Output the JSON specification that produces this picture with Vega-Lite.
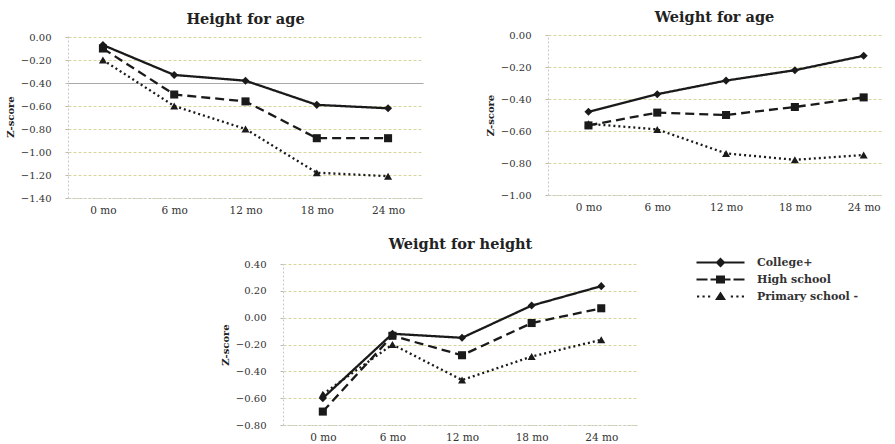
{
  "$schema": "https://vega.github.io/schema/vega-lite/v6.json",
  "padding": {"left": 5, "top": 9, "right": 5, "bottom": 5},
  "background": "white",
  "config": {
    "view": {"stroke": null},
    "font": "DejaVu Serif",
    "axisY": {"grid": true, "gridColor": "#d6d69c", "gridDash": [3, 2], "gridWidth": 1, "domainColor": "#c8c8c8", "domainDash": [2, 2], "tickColor": "#bbbbbb", "tickSize": 3, "labelFont": "DejaVu Serif", "labelFontSize": 10, "labelColor": "#333333", "labelPadding": 14, "titleFont": "DejaVu Serif", "titleFontSize": 10, "titleFontWeight": "bold", "titleColor": "#222222", "titlePadding": 5},
    "axisX": {"grid": false, "domainColor": "#c8c8c8", "domainDash": [2, 2], "ticks": false, "labelFont": "DejaVu Serif", "labelFontSize": 10.5, "labelColor": "#333333", "labelPadding": 7, "labelAngle": 0, "title": null},
    "title": {"font": "DejaVu Serif", "fontSize": 14.5, "fontWeight": "bold", "color": "#222222", "offset": 5}
  },
  "data": {"values": [
    {"panel": "HFA", "age": "0 mo", "edu": "College+", "z": -0.07},
    {"panel": "HFA", "age": "6 mo", "edu": "College+", "z": -0.33},
    {"panel": "HFA", "age": "12 mo", "edu": "College+", "z": -0.38},
    {"panel": "HFA", "age": "18 mo", "edu": "College+", "z": -0.59},
    {"panel": "HFA", "age": "24 mo", "edu": "College+", "z": -0.62},
    {"panel": "HFA", "age": "0 mo", "edu": "High school", "z": -0.10},
    {"panel": "HFA", "age": "6 mo", "edu": "High school", "z": -0.50},
    {"panel": "HFA", "age": "12 mo", "edu": "High school", "z": -0.56},
    {"panel": "HFA", "age": "18 mo", "edu": "High school", "z": -0.88},
    {"panel": "HFA", "age": "24 mo", "edu": "High school", "z": -0.88},
    {"panel": "HFA", "age": "0 mo", "edu": "Primary school -", "z": -0.20},
    {"panel": "HFA", "age": "6 mo", "edu": "Primary school -", "z": -0.60},
    {"panel": "HFA", "age": "12 mo", "edu": "Primary school -", "z": -0.80},
    {"panel": "HFA", "age": "18 mo", "edu": "Primary school -", "z": -1.18},
    {"panel": "HFA", "age": "24 mo", "edu": "Primary school -", "z": -1.21},
    {"panel": "WFA", "age": "0 mo", "edu": "College+", "z": -0.48},
    {"panel": "WFA", "age": "6 mo", "edu": "College+", "z": -0.37},
    {"panel": "WFA", "age": "12 mo", "edu": "College+", "z": -0.285},
    {"panel": "WFA", "age": "18 mo", "edu": "College+", "z": -0.22},
    {"panel": "WFA", "age": "24 mo", "edu": "College+", "z": -0.13},
    {"panel": "WFA", "age": "0 mo", "edu": "High school", "z": -0.565},
    {"panel": "WFA", "age": "6 mo", "edu": "High school", "z": -0.485},
    {"panel": "WFA", "age": "12 mo", "edu": "High school", "z": -0.50},
    {"panel": "WFA", "age": "18 mo", "edu": "High school", "z": -0.45},
    {"panel": "WFA", "age": "24 mo", "edu": "High school", "z": -0.39},
    {"panel": "WFA", "age": "0 mo", "edu": "Primary school -", "z": -0.555},
    {"panel": "WFA", "age": "6 mo", "edu": "Primary school -", "z": -0.59},
    {"panel": "WFA", "age": "12 mo", "edu": "Primary school -", "z": -0.74},
    {"panel": "WFA", "age": "18 mo", "edu": "Primary school -", "z": -0.78},
    {"panel": "WFA", "age": "24 mo", "edu": "Primary school -", "z": -0.75},
    {"panel": "WFH", "age": "0 mo", "edu": "College+", "z": -0.60},
    {"panel": "WFH", "age": "6 mo", "edu": "College+", "z": -0.12},
    {"panel": "WFH", "age": "12 mo", "edu": "College+", "z": -0.15},
    {"panel": "WFH", "age": "18 mo", "edu": "College+", "z": 0.09},
    {"panel": "WFH", "age": "24 mo", "edu": "College+", "z": 0.235},
    {"panel": "WFH", "age": "0 mo", "edu": "High school", "z": -0.70},
    {"panel": "WFH", "age": "6 mo", "edu": "High school", "z": -0.135},
    {"panel": "WFH", "age": "12 mo", "edu": "High school", "z": -0.28},
    {"panel": "WFH", "age": "18 mo", "edu": "High school", "z": -0.04},
    {"panel": "WFH", "age": "24 mo", "edu": "High school", "z": 0.07},
    {"panel": "WFH", "age": "0 mo", "edu": "Primary school -", "z": -0.57},
    {"panel": "WFH", "age": "6 mo", "edu": "Primary school -", "z": -0.20},
    {"panel": "WFH", "age": "12 mo", "edu": "Primary school -", "z": -0.465},
    {"panel": "WFH", "age": "18 mo", "edu": "Primary school -", "z": -0.29},
    {"panel": "WFH", "age": "24 mo", "edu": "Primary school -", "z": -0.165}
  ]},
  "spacing": 20,
  "resolve": {"scale": {"strokeDash": "independent", "shape": "independent"}, "legend": {"strokeDash": "independent", "shape": "independent"}},
  "vconcat": [
    {
      "hconcat": [
        {
          "title": "Height for age",
          "width": 355, "height": 163,
          "transform": [{"filter": "datum.panel === 'HFA'"}],
          "encoding": {
            "x": {"field": "age", "type": "ordinal", "sort": ["0 mo", "6 mo", "12 mo", "18 mo", "24 mo"], "scale": {"padding": 0.49, "align": 0.5}},
            "y": {"field": "z", "type": "quantitative", "scale": {"domain": [-1.4, 0.0174], "nice": false, "zero": false}, "axis": {"values": [0, -0.2, -0.4, -0.6, -0.8, -1.0, -1.2, -1.4], "format": ".2f", "title": "Z-score", "gridColor": {"condition": {"test": "abs(datum.value + 0.4) < 0.001", "value": "#a8a8a8"}, "value": "#d6d69c"}, "gridDash": {"condition": {"test": "abs(datum.value + 0.4) < 0.001", "value": []}, "value": [3, 2]}}}
          },
          "layer": [
            {"mark": {"type": "line", "color": "#1a1a1a", "strokeWidth": 2.3}, "encoding": {"strokeDash": {"field": "edu", "type": "nominal", "scale": {"domain": ["College+", "High school", "Primary school -"], "range": [[1, 0], [9, 5], [2, 3]]}, "legend": null}}},
            {"mark": {"type": "point", "filled": true, "opacity": 1, "color": "#1a1a1a", "size": 65}, "encoding": {"shape": {"field": "edu", "type": "nominal", "scale": {"domain": ["College+", "High school", "Primary school -"], "range": ["diamond", "square", "triangle-up"]}, "legend": null}}}
          ]
        },
        {
          "title": "Weight for age",
          "width": 333, "height": 160,
          "transform": [{"filter": "datum.panel === 'WFA'"}],
          "encoding": {
            "x": {"field": "age", "type": "ordinal", "sort": ["0 mo", "6 mo", "12 mo", "18 mo", "24 mo"], "scale": {"padding": 0.42, "align": 0.7}},
            "y": {"field": "z", "type": "quantitative", "scale": {"domain": [-1.0, 0], "nice": false, "zero": false}, "axis": {"values": [0, -0.2, -0.4, -0.6, -0.8, -1.0], "format": ".2f", "title": "Z-score"}}
          },
          "layer": [
            {"mark": {"type": "line", "color": "#1a1a1a", "strokeWidth": 2.3}, "encoding": {"strokeDash": {"field": "edu", "type": "nominal", "scale": {"domain": ["College+", "High school", "Primary school -"], "range": [[1, 0], [9, 5], [2, 3]]}, "legend": null}}},
            {"mark": {"type": "point", "filled": true, "opacity": 1, "color": "#1a1a1a", "size": 65}, "encoding": {"shape": {"field": "edu", "type": "nominal", "scale": {"domain": ["College+", "High school", "Primary school -"], "range": ["diamond", "square", "triangle-up"]}, "legend": null}}}
          ]
        }
      ],
      "bounds": "flush",
      "spacing": 125,
      "resolve": {"scale": {"strokeDash": "independent", "shape": "independent"}, "legend": {"strokeDash": "independent", "shape": "independent"}}
    },
    {
      "hconcat": [
        {
          "width": 180, "height": 161,
          "data": {"values": [{"k": 1}]},
          "mark": {"type": "point", "opacity": 0},
          "encoding": {}
        },
        {
          "title": "Weight for height",
          "width": 355, "height": 161,
          "transform": [{"filter": "datum.panel === 'WFH'"}],
          "encoding": {
            "x": {"field": "age", "type": "ordinal", "sort": ["0 mo", "6 mo", "12 mo", "18 mo", "24 mo"], "scale": {"padding": 0.55, "align": 0.52}},
            "y": {"field": "z", "type": "quantitative", "scale": {"domain": [-0.8, 0.4], "nice": false, "zero": false}, "axis": {"values": [0.4, 0.2, 0, -0.2, -0.4, -0.6, -0.8], "format": ".2f", "title": "Z-score"}}
          },
          "resolve": {"scale": {"shape": "independent"}, "legend": {"shape": "independent"}},
          "layer": [
            {"mark": {"type": "line", "color": "#1a1a1a", "strokeWidth": 2.3}, "encoding": {"strokeDash": {"field": "edu", "type": "nominal", "scale": {"domain": ["Primary school -", "College+", "High school"], "range": [[2, 3], [1, 0], [9, 5]]}, "legend": null}}},
            {"mark": {"type": "point", "filled": true, "opacity": 1, "color": "#1a1a1a", "size": 65}, "encoding": {"shape": {"field": "edu", "type": "nominal", "scale": {"domain": ["High school", "College+", "Primary school -"], "range": ["square", "diamond", "triangle-up"]}, "legend": null}}},
            {"mark": {"type": "point", "filled": true, "opacity": 0, "color": "#1a1a1a", "size": 1}, "encoding": {"shape": {"field": "edu", "type": "nominal", "scale": {"domain": ["College+", "High school", "Primary school -"], "range": ["M-4.8,-0.22L4.8,-0.22L4.8,0.22L-4.8,0.22Z M0,-1.0L1.0,0L0,1.0L-1.0,0Z", "M-4.8,-0.22L-2.6,-0.22L-2.6,0.22L-4.8,0.22Z M-2.0,-0.22L2.0,-0.22L2.0,0.22L-2.0,0.22Z M2.6,-0.22L4.8,-0.22L4.8,0.22L2.6,0.22Z M-0.9,-0.8L0.9,-0.8L0.9,0.8L-0.9,0.8Z", "M-4.7,-0.22L-4.26,-0.22L-4.26,0.22L-4.7,0.22Z M-3.6,-0.22L-3.16,-0.22L-3.16,0.22L-3.6,0.22Z M-2.5,-0.22L-2.06,-0.22L-2.06,0.22L-2.5,0.22Z M2.06,-0.22L2.5,-0.22L2.5,0.22L2.06,0.22Z M3.16,-0.22L3.6,-0.22L3.6,0.22L3.16,0.22Z M4.26,-0.22L4.7,-0.22L4.7,0.22L4.26,0.22Z M0,-1.0L1.1,0.7L-1.1,0.7Z"]}, "legend": {"title": null, "orient": "none", "legendX": 432, "legendY": -7, "symbolSize": 100, "symbolOpacity": 1, "symbolFillColor": "#1a1a1a", "symbolStrokeColor": "transparent", "symbolStrokeWidth": 0, "labelOffset": 31, "rowPadding": 5, "labelFont": "DejaVu Serif", "labelFontSize": 11, "labelFontWeight": "bold", "labelColor": "#333333"}}}}
          ]
        }
      ],
      "bounds": "flush",
      "spacing": 35,
      "resolve": {"scale": {"strokeDash": "independent", "shape": "independent"}, "legend": {"strokeDash": "independent", "shape": "independent"}}
    }
  ]
}
